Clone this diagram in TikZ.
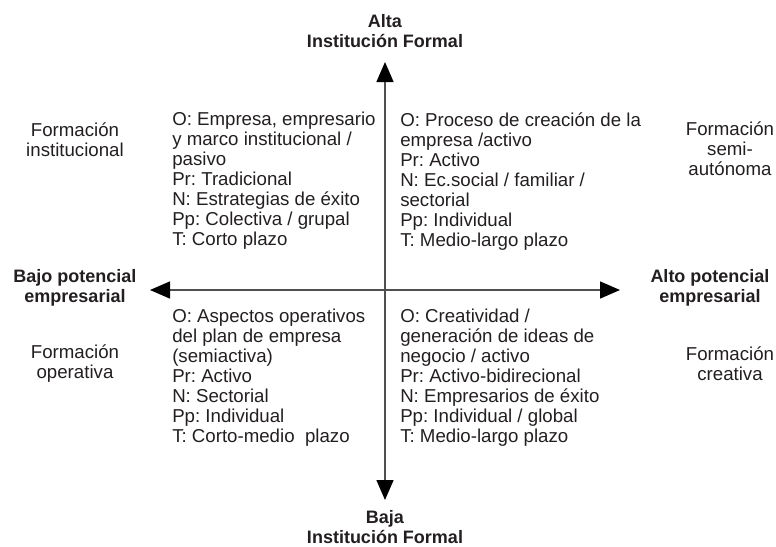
\documentclass[tikz,border=0pt]{standalone}
\usepackage{fontspec}
\setmainfont{Liberation Sans}
\usetikzlibrary{arrows.meta}
\definecolor{inkblack}{RGB}{35,31,32}
\definecolor{axisgray}{RGB}{80,80,80}
\frenchspacing

\begin{document}
\begin{tikzpicture}[x=0.75pt, y=-0.75pt, every node/.style={text=inkblack}]
\tikzstyle{quad} = [anchor=north west, align=left, inner sep=0pt, font=\fontsize{14}{15}\selectfont]
\tikzstyle{side} = [align=center, inner sep=0pt, font=\fontsize{14}{15}\selectfont]
\tikzstyle{pole} = [align=center, inner sep=0pt, font=\fontsize{13.5}{15}\selectfont\bfseries]
\tikzstyle{axis} = [{Triangle[width=12.75pt, length=15pt, color=black]}-{Triangle[width=12.75pt, length=15pt, color=black]}, line width=1.1pt, draw=axisgray]

\useasboundingbox (0,0) rectangle (776,547);

% axis ends
\coordinate (top) at (385,62);
\coordinate (bottom) at (385,500);
\coordinate (left) at (150,290);
\coordinate (right) at (620,290);

\draw[axis] (top) -- (bottom);
\draw[axis] (left) -- (right);

% poles
\node (alta) [pole] at (385,31) {Alta\\Institución Formal};
\node (baja) [pole] at (385,527) {Baja\\Institución Formal};
\node (bajo) [pole] at (75,288) {Bajo potencial\\empresarial};
\node (alto) [pole] at (710,288) {Alto potencial\\empresarial};

% kinds of training
\node (institucional) [side] at (75,140) {Formación\\institucional};
\node (semiautonoma) [side] at (730,149) {Formación\\semi-\\autónoma};
\node (operativa) [side] at (75,364) {Formación\\operativa};
\node (creativa) [side] at (730,364) {Formación\\creativa};

% quadrants
\node (qtl) [quad] at (172,112) {O: Empresa, empresario\\y marco institucional /\\pasivo\\Pr: Tradicional\\N: Estrategias de éxito\\Pp: Colectiva / grupal\\T: Corto plazo};
\node (qtr) [quad] at (400,112) {O: Proceso de creación de la\\empresa /activo\\Pr: Activo\\N: Ec.social / familiar /\\sectorial\\Pp: Individual\\T: Medio-largo plazo};
\node (qbl) [quad] at (172,309) {O: Aspectos operativos\\del plan de empresa\\(semiactiva)\\Pr: Activo\\N: Sectorial\\Pp: Individual\\T: Corto-medio\ \ plazo};
\node (qbr) [quad] at (400,309) {O: Creatividad /\\generación de ideas de\\negocio / activo\\Pr: Activo-bidirecional\\N: Empresarios de éxito\\Pp: Individual / global\\T: Medio-largo plazo};

\end{tikzpicture}
\end{document}
